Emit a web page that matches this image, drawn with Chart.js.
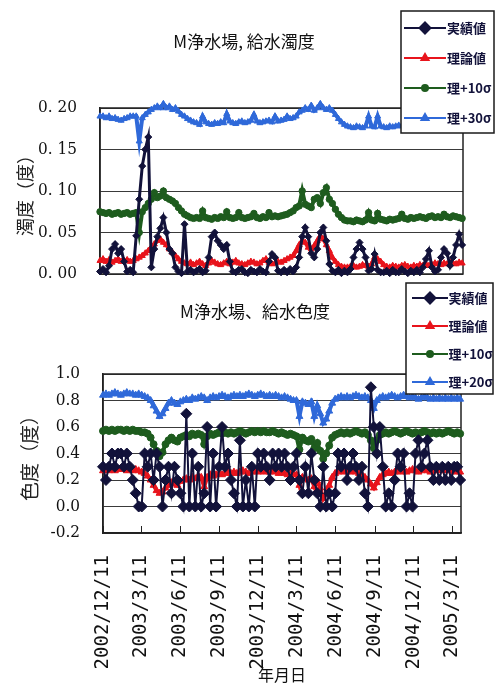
<!DOCTYPE html>
<html>
<head>
<meta charset="utf-8">
<script src="https://cdn.jsdelivr.net/npm/chart.js@4.4.1/dist/chart.umd.min.js"></script>
<style>
  html, body { margin: 0; padding: 0; background: #fff; }
  #wrap { position: relative; width: 496px; height: 685px; overflow: hidden; }
  #turbidity { position: absolute; left: 0; top: 0; }
  #colour { position: absolute; left: 0; top: 281px; background: #fff; }
</style>
</head>
<body>
<div id="wrap">
  <canvas id="turbidity" width="496" height="300"></canvas>
  <canvas id="colour" width="496" height="404"></canvas>
</div>
<script>
// readings taken off the scan once a week, day 0 = 2002/12/11
const stepDays = 7;
const tickDays = [0, 90, 182, 274, 365, 456, 548, 640, 731, 821];
const tickLabels = ["2002/12/11", "2003/3/11", "2003/6/11", "2003/9/11", "2003/12/11",
  "2004/3/11", "2004/6/11", "2004/9/11", "2004/12/11", "2005/3/11"];

// 給水濁度
const turbActual = [0.003, 0.006, 0.002, 0.01, 0.03, 0.036, 0.025, 0.03, 0.015, 0.003, 0.005, 0.002,
  0.046, 0.09, 0.13, 0.15, 0.165, 0.008, 0.03, 0.045, 0.055, 0.068, 0.05, 0.03,
  0.025, 0.008, 0.003, 0.001, 0.06, 0.003, 0.005, 0.002, 0.004, 0.006, 0.002, 0.004,
  0.02, 0.045, 0.05, 0.04, 0.035, 0.03, 0.035, 0.015,
  0.003, 0.002, 0.005, 0.006, 0.002, 0.001, 0.005, 0.003, 0.002, 0.006, 0.003, 0.002,
  0.015, 0.024, 0.02, 0.004, 0.002, 0.005, 0.002, 0.006, 0.003, 0.008,
  0.02, 0.045, 0.056, 0.045, 0.025, 0.02, 0.03, 0.05, 0.056, 0.04,
  0.012, 0.004, 0.002, 0.005, 0.001, 0.004, 0.002, 0.006, 0.02, 0.03, 0.038, 0.03, 0.02,
  0.004, 0.006, 0.024, 0.005, 0.002,
  0.002, 0.004, 0.001, 0.005, 0.002, 0.002, 0.006, 0.003, 0.001, 0.004, 0.002, 0.005, 0.002, 0.008,
  0.018, 0.028, 0.008, 0.003, 0.005, 0.02, 0.03, 0.025, 0.01, 0.02, 0.035, 0.048, 0.035];
const turbTheory = [0.016, 0.018, 0.015, 0.017, 0.014, 0.016, 0.018, 0.015, 0.016, 0.017, 0.015, 0.016, 0.018,
  0.02, 0.022, 0.025, 0.028, 0.032, 0.036, 0.04, 0.042, 0.038, 0.035,
  0.03, 0.026, 0.022, 0.018, 0.015, 0.013,
  0.012, 0.014, 0.011, 0.013, 0.015, 0.012, 0.01, 0.013, 0.016, 0.014, 0.012, 0.011, 0.013, 0.015,
  0.012, 0.014, 0.016, 0.013, 0.012, 0.011, 0.013, 0.015, 0.014, 0.012, 0.013, 0.016, 0.018, 0.014,
  0.012, 0.013, 0.015, 0.014, 0.016, 0.018, 0.02, 0.022,
  0.028, 0.035, 0.04, 0.038, 0.032, 0.03, 0.034, 0.04, 0.046, 0.042, 0.035,
  0.028, 0.02, 0.015, 0.011, 0.009, 0.008,
  0.008, 0.009, 0.01, 0.008, 0.009, 0.011, 0.01, 0.009, 0.012, 0.02, 0.018, 0.015, 0.011,
  0.009, 0.008, 0.01, 0.009, 0.008, 0.01, 0.011, 0.009, 0.008, 0.01, 0.009, 0.011, 0.01,
  0.012, 0.01, 0.011, 0.013, 0.012, 0.011, 0.013, 0.012, 0.014, 0.013, 0.012, 0.014, 0.013];
const turbPlus10 = [0.075, 0.074, 0.073, 0.074, 0.072, 0.073, 0.074, 0.072, 0.073, 0.074, 0.072, 0.073, 0.074,
  0.05, 0.075, 0.08, 0.085, 0.09, 0.098, 0.092, 0.094, 0.1, 0.092, 0.09, 0.088, 0.085,
  0.08, 0.076, 0.072, 0.07, 0.068, 0.067, 0.068, 0.067,
  0.076, 0.068, 0.067, 0.066, 0.068, 0.067, 0.069, 0.068, 0.075, 0.068, 0.067, 0.068, 0.074, 0.068,
  0.067, 0.068, 0.069, 0.073, 0.068, 0.067, 0.069, 0.068, 0.074, 0.069, 0.07, 0.069, 0.07, 0.071,
  0.072, 0.074, 0.076,
  0.08, 0.082, 0.1, 0.084, 0.082, 0.08, 0.09, 0.092, 0.085, 0.098, 0.104, 0.09, 0.085,
  0.078, 0.072, 0.068, 0.065, 0.064,
  0.064, 0.063, 0.065, 0.064, 0.063, 0.065, 0.074, 0.065, 0.064, 0.073, 0.066, 0.065, 0.064,
  0.066, 0.065, 0.066, 0.067, 0.072,
  0.067, 0.066, 0.068, 0.067, 0.068, 0.069, 0.068, 0.067, 0.069, 0.07, 0.068, 0.069, 0.068,
  0.072, 0.069, 0.068, 0.07, 0.069, 0.068, 0.067];
const turbPlus30 = [0.19, 0.19, 0.188, 0.19, 0.187, 0.188, 0.186, 0.185, 0.187, 0.188, 0.19, 0.19, 0.19,
  0.16, 0.188, 0.192, 0.195, 0.198, 0.2, 0.202, 0.2, 0.205, 0.2, 0.202, 0.198, 0.2,
  0.196, 0.192, 0.19, 0.187, 0.185, 0.183, 0.182, 0.18,
  0.19, 0.183, 0.181, 0.18, 0.182, 0.181, 0.183, 0.182, 0.193, 0.184, 0.182, 0.181, 0.183, 0.184,
  0.182, 0.183, 0.185, 0.192, 0.184, 0.182, 0.183, 0.184, 0.185, 0.183, 0.19, 0.184, 0.185, 0.186,
  0.19, 0.187, 0.188,
  0.19, 0.195, 0.197, 0.2, 0.198, 0.203, 0.197, 0.2, 0.205, 0.2, 0.198, 0.2, 0.197,
  0.192, 0.187, 0.183, 0.18, 0.178,
  0.177, 0.176, 0.178, 0.177, 0.176, 0.178, 0.19, 0.178, 0.177, 0.19, 0.178, 0.177, 0.176,
  0.178, 0.177, 0.178, 0.179, 0.178,
  0.179, 0.18, 0.178, 0.179, 0.18, 0.181, 0.179, 0.18, 0.182, 0.18, 0.181, 0.18, 0.182,
  0.181, 0.18, 0.182, 0.181, 0.18, 0.181, 0.18];

// 給水色度
const colourActual = [0.3, 0.2, 0.3, 0.4, 0.3, 0.4, 0.4, 0.3, 0.4, 0.3, 0.2, 0.1, 0.0, 0.0,
  0.4, 0.3, 0.4, 0.2, 0.4, 0.3, 0.0, 0.2, 0.3, 0.1, 0.3, 0.2, 0.1, 0.0, 0.7,
  0.0, 0.4, 0.0, 0.3, 0.0, 0.1, 0.6, 0.0, 0.4, 0.0, 0.3, 0.6, 0.3, 0.4, 0.2,
  0.1, 0.0, 0.5, 0.0, 0.2, 0.0, 0.3, 0.0,
  0.4, 0.3, 0.4, 0.3, 0.2, 0.4, 0.3, 0.4, 0.3, 0.4, 0.3, 0.2, 0.3, 0.4, 0.2, 0.1,
  0.3, 0.1, 0.4, 0.2, 0.1, 0.0, 0.3, 0.0, 0.1, 0.0, 0.1,
  0.4, 0.3, 0.4, 0.2, 0.3, 0.4, 0.3, 0.2, 0.3, 0.1, 0.0, 0.9, 0.6, 0.4, 0.6, 0.3,
  0.0, 0.1, 0.0, 0.2, 0.4, 0.3, 0.4, 0.0, 0.1, 0.0, 0.4, 0.5, 0.3, 0.4, 0.5, 0.3,
  0.2, 0.3, 0.2, 0.3, 0.2, 0.3, 0.2, 0.3, 0.3, 0.2];
const colourTheory = [0.27, 0.28, 0.27, 0.28, 0.27, 0.28, 0.29, 0.28, 0.27, 0.28, 0.27, 0.28, 0.27,
  0.26, 0.25, 0.23, 0.2, 0.16, 0.12, 0.1, 0.11, 0.14, 0.16, 0.18, 0.17, 0.16, 0.19, 0.2,
  0.21, 0.2, 0.22, 0.21, 0.23, 0.22, 0.15, 0.22, 0.24, 0.23, 0.24, 0.25, 0.24, 0.25, 0.26, 0.25,
  0.26, 0.25, 0.26, 0.27, 0.26, 0.25, 0.26, 0.27, 0.26, 0.27, 0.26, 0.27, 0.26, 0.27, 0.26, 0.25,
  0.26, 0.25, 0.24, 0.25, 0.24,
  0.24, 0.16, 0.22, 0.21, 0.2, 0.21, 0.15, 0.19, 0.14, 0.06, 0.1, 0.16, 0.22, 0.25, 0.26, 0.27,
  0.26, 0.27, 0.26, 0.27, 0.26, 0.25, 0.24, 0.22, 0.2, 0.17, 0.14, 0.18, 0.22, 0.24, 0.25, 0.26,
  0.25, 0.26, 0.27, 0.26, 0.27, 0.26, 0.27, 0.28, 0.27, 0.26, 0.27, 0.28, 0.27, 0.26,
  0.27, 0.28, 0.27, 0.28, 0.27, 0.28, 0.27, 0.26, 0.27, 0.26];
const colourPlus10 = [0.57, 0.58, 0.57, 0.58, 0.57, 0.58, 0.58, 0.57, 0.58, 0.57, 0.58, 0.57, 0.57,
  0.56, 0.56, 0.55, 0.52, 0.47, 0.42, 0.38, 0.41, 0.47, 0.5, 0.52, 0.5, 0.49, 0.52, 0.53,
  0.54, 0.53, 0.55, 0.54, 0.55, 0.54, 0.47, 0.53, 0.55, 0.54, 0.55, 0.56, 0.55, 0.56, 0.55, 0.56,
  0.55, 0.56, 0.57, 0.56, 0.55, 0.56, 0.57, 0.56, 0.57, 0.56, 0.57, 0.56, 0.56, 0.57, 0.56, 0.55,
  0.56, 0.55, 0.54, 0.55, 0.54,
  0.53, 0.43, 0.52, 0.5, 0.49, 0.51, 0.44, 0.48, 0.42, 0.36, 0.4, 0.46, 0.52, 0.54, 0.55, 0.56,
  0.55, 0.56, 0.55, 0.56, 0.57, 0.56, 0.55, 0.56, 0.54, 0.5, 0.44, 0.5, 0.54, 0.55, 0.56, 0.55,
  0.56, 0.57, 0.56, 0.55, 0.56, 0.57, 0.56, 0.55, 0.56, 0.55, 0.56, 0.57, 0.56, 0.55,
  0.56, 0.55, 0.56, 0.55, 0.56, 0.57, 0.56, 0.55, 0.56, 0.55];
const colourPlus20 = [0.84, 0.85, 0.84, 0.85, 0.86, 0.85, 0.84, 0.85, 0.86, 0.85, 0.85, 0.84, 0.85,
  0.84, 0.83, 0.82, 0.8, 0.76, 0.72, 0.68, 0.7, 0.74, 0.78, 0.8, 0.78, 0.77, 0.79, 0.8,
  0.81, 0.8, 0.82, 0.81, 0.82, 0.83, 0.82, 0.8, 0.82, 0.83, 0.82, 0.83, 0.84, 0.83, 0.82, 0.83,
  0.84, 0.83, 0.84, 0.83, 0.84, 0.85, 0.84, 0.83, 0.84, 0.85, 0.84, 0.83, 0.84, 0.83, 0.84, 0.83,
  0.82, 0.83, 0.82, 0.81, 0.8,
  0.8, 0.68, 0.79, 0.78, 0.77, 0.79, 0.68, 0.76, 0.7, 0.63, 0.66, 0.72, 0.78, 0.81, 0.82, 0.83,
  0.82, 0.83, 0.82, 0.83, 0.84, 0.83, 0.82, 0.83, 0.82, 0.8, 0.74, 0.8, 0.82, 0.83, 0.82, 0.83,
  0.84, 0.83, 0.82, 0.83, 0.84, 0.83, 0.82, 0.83, 0.82, 0.81, 0.82, 0.83, 0.82, 0.81,
  0.82, 0.81, 0.82, 0.81, 0.82, 0.81, 0.82, 0.81, 0.82, 0.81];

const NAVY = "#12123a", RED = "#e8141c", GREEN = "#1e5c1e", BLUE = "#2f69d9";
const jpFont = "'Noto Sans CJK JP', sans-serif";
const numFont = "'DejaVu Serif Condensed', 'Liberation Serif', serif";

const toPoints = vals => vals.map((v, i) => ({ x: i * stepDays, y: v }));

// legend glyph: short line with the marker in the middle, like the spreadsheet legend
function legendIcon(color, style, radius, width) {
  const c = document.createElement("canvas");
  c.width = width; c.height = 16;
  const g = c.getContext("2d");
  g.strokeStyle = color; g.fillStyle = color; g.lineWidth = 2;
  g.beginPath(); g.moveTo(0, 8); g.lineTo(width, 8); g.stroke();
  Chart.helpers.drawPoint(g, { pointStyle: style, radius: radius, rotation: 0, borderWidth: 1 }, width / 2, 8);
  return c;
}

function series(label, vals, color, style, radius, lineWidth) {
  return {
    label: label, data: toPoints(vals),
    borderColor: color, backgroundColor: color, borderWidth: lineWidth,
    pointStyle: style, pointRadius: radius, pointBorderWidth: 1,
    pointBackgroundColor: color, pointBorderColor: color,
    tension: 0, clip: false
  };
}

const legendFrame = {
  id: "legendFrame",
  afterLayout(chart, args, opts) {
    const lg = chart.legend, pad = lg.options.labels.padding;
    lg.left = opts.itemX - pad;
    lg.top = opts.itemY - pad;
    lg.right = chart.width;
    lg.bottom = lg.top + 220;
  },
  afterDatasetsDraw(chart, args, opts) {
    const ctx = chart.ctx, b = opts.box;
    ctx.save();
    ctx.fillStyle = "#fff";
    ctx.fillRect(b[0], b[1], b[2], b[3]);
    ctx.lineWidth = 1.5;
    ctx.strokeStyle = "#1a1a1a";
    ctx.strokeRect(b[0], b[1], b[2], b[3]);
    ctx.restore();
    chart.legend.draw();
  }
};

const plotFrame = {
  id: "plotFrame",
  beforeDatasetsDraw(chart) {
    const ctx = chart.ctx, a = chart.chartArea;
    ctx.save();
    ctx.strokeStyle = "#222";
    ctx.lineWidth = 1.5;
    ctx.strokeRect(a.left, a.top, a.right - a.left, a.bottom - a.top);
    ctx.restore();
  }
};

function legendOptions(icons, boxWidth, pad) {
  return {
    position: "chartArea", align: "start",
    labels: {
      usePointStyle: true, pointStyleWidth: boxWidth, padding: pad, color: "#000",
      font: { family: jpFont, size: 13, weight: "bold" },
      generateLabels: chart => chart.data.datasets.map((ds, i) => ({
        text: ds.label, pointStyle: icons[i], fillStyle: ds.borderColor,
        strokeStyle: ds.borderColor, lineWidth: 0, hidden: false, datasetIndex: i
      }))
    }
  };
}

// Turbidity chart
const turbIcons = [legendIcon(NAVY, "rectRot", 5.5, 42), legendIcon(RED, "triangle", 4, 42),
  legendIcon(GREEN, "circle", 3, 42), legendIcon(BLUE, "triangle", 4, 42)];
new Chart(document.getElementById("turbidity"), {
  type: "line",
  data: {
    datasets: [
      series("実績値", turbActual, NAVY, "rectRot", 3.5, 3),
      series("理論値", turbTheory, RED, "triangle", 3.5, 4),
      series("理+10σ", turbPlus10, GREEN, "circle", 3.2, 4),
      series("理+30σ", turbPlus30, BLUE, "triangle", 3.5, 4)
    ]
  },
  options: {
    responsive: false, animation: false, events: [],
    layout: { padding: { left: 25, right: 33, top: 0, bottom: 26 } },
    plugins: {
      title: { display: true, text: "M浄水場, 給水濁度", color: "#111",
        font: { family: jpFont, size: 17, weight: "normal" }, padding: { top: 31, bottom: 56.6 } },
      legend: legendOptions(turbIcons, 31, 17),
      tooltip: { enabled: false },
      legendFrame: { itemX: 409.5, itemY: 21.5, box: [401, 11, 93, 122] }
    },
    scales: {
      x: { type: "linear", min: 0, max: 842, display: false },
      y: {
        min: 0, max: 0.2,
        afterFit: s => { s.width = 75; s.paddingTop = 0; s.paddingBottom = 0; },
        ticks: { stepSize: 0.05, padding: 23, color: "#111",
          font: { family: numFont, size: 17 },
          callback: v => v.toFixed(2).replace(".", ". ") },
        grid: { color: "#3a3a3a", lineWidth: 1, drawTicks: false },
        border: { display: true, color: "#222", width: 1.5 },
        title: { display: true, text: "濁度（度）", color: "#222",
          font: { family: jpFont, size: 18 }, padding: { top: -11, bottom: 0 } }
      }
    }
  },
  plugins: [plotFrame, legendFrame]
});

// Colour chart
const colourIcons = [legendIcon(NAVY, "rectRot", 5.5, 36), legendIcon(RED, "triangle", 4, 36),
  legendIcon(GREEN, "circle", 3, 36), legendIcon(BLUE, "triangle", 4, 36)];
new Chart(document.getElementById("colour"), {
  type: "line",
  data: {
    datasets: [
      series("実績値", colourActual, NAVY, "rectRot", 5.5, 2),
      series("理論値", colourTheory, RED, "triangle", 4, 4),
      series("理+10σ", colourPlus10, GREEN, "circle", 3.5, 4),
      series("理+20σ", colourPlus20, BLUE, "triangle", 4, 4)
    ]
  },
  options: {
    responsive: false, animation: false, events: [],
    layout: { padding: { left: 49, right: 35, top: 0, bottom: 0 } },
    plugins: {
      title: { display: true, text: "M浄水場、給水色度", color: "#111",
        font: { family: jpFont, size: 17, weight: "normal" }, padding: { top: 20.8, bottom: 51.8 } },
      legend: legendOptions(colourIcons, 24, 15),
      tooltip: { enabled: false },
      legendFrame: { itemX: 418, itemY: 10.5, box: [406, 2, 87, 111] }
    },
    scales: {
      x: {
        type: "linear", min: 0, max: 842,
        afterFit: s => { s.height = 152; s.paddingLeft = 0; s.paddingRight = 0; },
        afterBuildTicks: s => { s.ticks = tickDays.map(d => ({ value: d })); },
        ticks: { autoSkip: false, minRotation: 90, maxRotation: 90, padding: 29, color: "#111",
          font: { family: "'DejaVu Sans Mono', monospace", size: 19 },
          callback: v => tickLabels[tickDays.indexOf(v)] },
        grid: { drawOnChartArea: false, drawTicks: true, tickLength: -7, color: "#222", lineWidth: 1 },
        border: { display: true, color: "#222", width: 1.5 },
        title: { display: true, text: "年月日", color: "#111",
          font: { family: jpFont, size: 16 }, padding: { top: 0, bottom: 0 } }
      },
      y: {
        min: -0.2, max: 1.0,
        afterFit: s => { s.width = 54; },
        ticks: { stepSize: 0.2, padding: 23, color: "#111",
          font: { family: numFont, size: 17 },
          callback: v => (Math.abs(v) < 1e-9 ? 0 : v).toFixed(1) },
        grid: { color: "#3a3a3a", lineWidth: 1, drawTicks: false },
        border: { display: true, color: "#222", width: 1.5 },
        title: { display: true, text: "色度（度）", color: "#222",
          font: { family: jpFont, size: 19 }, padding: { top: -30.4, bottom: 0 } }
      }
    }
  },
  plugins: [plotFrame, legendFrame]
});
</script>
</body>
</html>
